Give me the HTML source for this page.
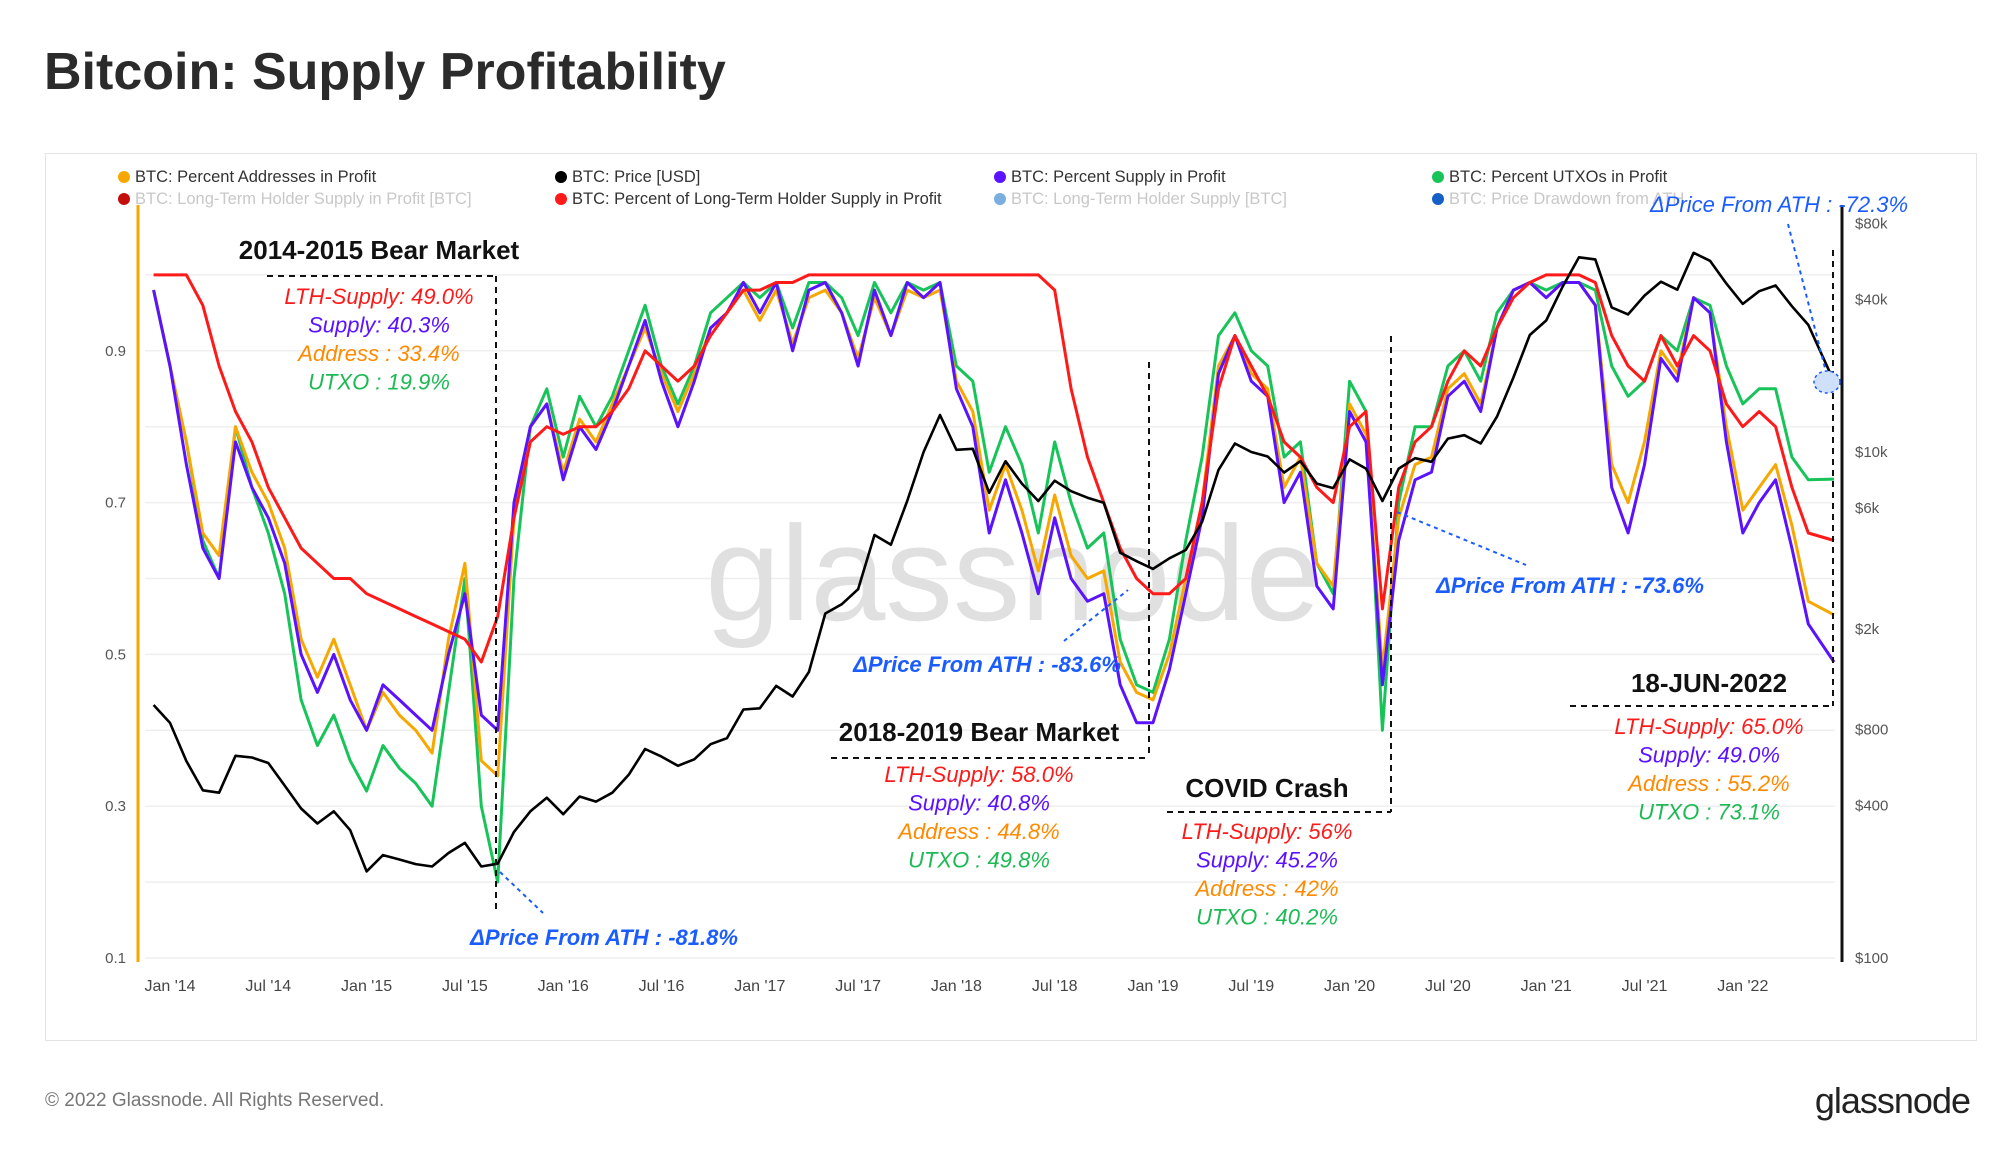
<!DOCTYPE html>
<html><head><meta charset="utf-8">
<style>
html,body{margin:0;padding:0;background:#fff;}
body{width:2000px;height:1153px;position:relative;overflow:hidden;font-family:"Liberation Sans",sans-serif;}
.title{position:absolute;left:44px;top:42px;font-size:52px;font-weight:bold;color:#2b2b2b;}
.panel{position:absolute;left:45px;top:153px;width:1932px;height:888px;border:1px solid #e4e4e4;box-sizing:border-box;}
.foot{position:absolute;left:45px;top:1090px;font-size:19px;color:#777;}
.logo{position:absolute;right:30px;top:1080px;font-size:36px;color:#222;letter-spacing:-1px;}
svg{position:absolute;left:0;top:0;}
</style></head><body>
<div class="title">Bitcoin: Supply Profitability</div>
<div class="panel"></div>
<div class="foot">© 2022 Glassnode. All Rights Reserved.</div>
<div class="logo">glassnode</div>
<svg id="chart" width="2000" height="1153"></svg>
<script>
const dates=["2013-12-01"];
for(let y=2014;y<=2022;y++){for(let m=1;m<=12;m++){if(y===2022&&m>5)break;dates.push(y+"-"+String(m).padStart(2,"0")+"-01");}}
dates.push("2022-06-18");
const supply=[0.98,
0.88,0.75,0.64,0.60,0.78,0.72,0.68,0.62,0.50,0.45,0.50,0.44,
0.40,0.46,0.44,0.42,0.40,0.50,0.58,0.42,0.40,0.70,0.80,0.83,
0.73,0.80,0.77,0.82,0.88,0.94,0.86,0.80,0.86,0.93,0.95,0.99,
0.95,0.99,0.90,0.98,0.99,0.95,0.88,0.98,0.92,0.99,0.97,0.99,
0.85,0.80,0.66,0.73,0.66,0.58,0.68,0.60,0.57,0.58,0.46,0.41,
0.41,0.48,0.58,0.68,0.87,0.92,0.86,0.84,0.70,0.74,0.59,0.56,
0.82,0.78,0.46,0.65,0.73,0.74,0.84,0.86,0.82,0.93,0.98,0.99,
0.97,0.99,0.99,0.96,0.72,0.66,0.75,0.89,0.86,0.97,0.95,0.78,
0.66,0.70,0.73,0.64,0.54,0.49];
const addresses=[0.98,
0.88,0.78,0.66,0.63,0.80,0.74,0.70,0.64,0.52,0.47,0.52,0.46,
0.40,0.45,0.42,0.40,0.37,0.52,0.62,0.36,0.34,0.68,0.80,0.83,
0.74,0.81,0.78,0.83,0.88,0.93,0.87,0.82,0.87,0.93,0.95,0.98,
0.94,0.98,0.91,0.97,0.98,0.95,0.89,0.97,0.92,0.98,0.97,0.98,
0.86,0.82,0.69,0.75,0.69,0.61,0.71,0.63,0.60,0.61,0.49,0.45,
0.44,0.50,0.60,0.70,0.88,0.92,0.87,0.85,0.72,0.76,0.62,0.59,
0.83,0.79,0.48,0.68,0.75,0.76,0.85,0.87,0.83,0.93,0.98,0.99,
0.97,0.99,0.99,0.96,0.75,0.70,0.78,0.90,0.87,0.97,0.95,0.80,
0.69,0.72,0.75,0.67,0.57,0.552];
const utxos=[0.98,
0.88,0.78,0.65,0.60,0.80,0.72,0.66,0.58,0.44,0.38,0.42,0.36,
0.32,0.38,0.35,0.33,0.30,0.45,0.60,0.30,0.20,0.60,0.80,0.85,
0.76,0.84,0.80,0.84,0.90,0.96,0.88,0.83,0.88,0.95,0.97,0.99,
0.97,0.99,0.93,0.99,0.99,0.97,0.92,0.99,0.95,0.99,0.98,0.99,
0.88,0.86,0.74,0.80,0.75,0.66,0.78,0.70,0.64,0.66,0.52,0.46,
0.45,0.52,0.65,0.76,0.92,0.95,0.90,0.88,0.76,0.78,0.62,0.58,
0.86,0.82,0.40,0.70,0.80,0.80,0.88,0.90,0.86,0.95,0.98,0.99,
0.98,0.99,0.99,0.98,0.88,0.84,0.86,0.92,0.90,0.97,0.96,0.88,
0.83,0.85,0.85,0.76,0.73,0.731];
const lth=[1.0,
1.0,1.0,0.96,0.88,0.82,0.78,0.72,0.68,0.64,0.62,0.60,0.60,
0.58,0.57,0.56,0.55,0.54,0.53,0.52,0.49,0.55,0.68,0.78,0.80,
0.79,0.80,0.80,0.82,0.85,0.90,0.88,0.86,0.88,0.92,0.95,0.98,
0.98,0.99,0.99,1.0,1.0,1.0,1.0,1.0,1.0,1.0,1.0,1.0,
1.0,1.0,1.0,1.0,1.0,1.0,0.98,0.85,0.76,0.70,0.64,0.60,
0.58,0.58,0.60,0.70,0.85,0.92,0.88,0.84,0.78,0.76,0.72,0.70,
0.80,0.82,0.56,0.72,0.78,0.80,0.86,0.90,0.88,0.93,0.97,0.99,
1.0,1.0,1.0,0.99,0.92,0.88,0.86,0.92,0.88,0.92,0.90,0.83,
0.80,0.82,0.80,0.72,0.66,0.65];
const price=[1000,
850,600,460,450,630,620,590,480,390,340,380,320,
220,255,245,235,230,260,285,230,236,315,380,430,
370,435,415,450,530,670,625,575,610,700,740,960,
970,1190,1080,1350,2300,2500,2870,4700,4300,6400,10000,14000,
10200,10300,6900,9200,7500,6400,7700,7000,6600,6300,4000,3700,
3450,3800,4100,5300,8500,10800,10000,9600,8300,9200,7500,7200,
9350,8600,6400,8600,9450,9150,11300,11650,10800,13800,19700,29000,
33100,45000,58800,57700,37300,35000,41500,47100,43800,61300,57000,46300,
38500,43200,45500,37700,31800,19000];
const leftTicks=["0.1","0.3","0.5","0.7","0.9"];
const rightTicks=[100,400,800,2000,6000,10000,40000,80000];
const rightTickLabels=["$100","$400","$800","$2k","$6k","$10k","$40k","$80k"];
const xTickLabels=["Jan '14","Jul '14","Jan '15","Jul '15","Jan '16","Jul '16","Jan '17","Jul '17","Jan '18","Jul '18","Jan '19","Jul '19","Jan '20","Jul '20","Jan '21","Jul '21","Jan '22"];

const NS="http://www.w3.org/2000/svg";
const svg=document.getElementById("chart");
function el(tag,attrs,parent){const e=document.createElementNS(NS,tag);for(const k in attrs)e.setAttribute(k,attrs[k]);(parent||svg).appendChild(e);return e;}
function xOf(d){const p=d.split("-").map(Number);return 170+(p[0]-2014)*196.6+(p[1]-1+(p[2]-1)/30)*16.383;}
function yL(v){return 958-(v-0.1)/0.2*151.8;}
function yR(p){return 958-Math.log10(p/100)*253;}

for(let v=0.1;v<=1.05;v+=0.1){const g=el("line",{x1:145,x2:1835,y1:yL(v),y2:yL(v),stroke:"#efefef","stroke-width":1.5});

}
const wm=el("text",{x:1013,y:620,"text-anchor":"middle","font-size":135,fill:"#e0e0e0","font-family":"Liberation Sans, sans-serif"});
wm.textContent="glassnode";


const la=el("line",{x1:138,x2:138,y1:205,y2:962,stroke:"#f5a800","stroke-width":3});


const ra=el("line",{x1:1842,x2:1842,y1:205,y2:962,stroke:"#111","stroke-width":3});


leftTicks.forEach(t=>{const e=el("text",{x:126,y:yL(parseFloat(t))+5,"text-anchor":"end","font-size":15,fill:"#555"});e.textContent=t;

});
rightTicks.forEach((t,i)=>{const e=el("text",{x:1855,y:yR(t)+5,"font-size":15,fill:"#555"});e.textContent=rightTickLabels[i];

});
xTickLabels.forEach((t,i)=>{const d=(2014+Math.floor(i/2))+"-"+(i%2?"07":"01")+"-01";const e=el("text",{x:xOf(d),y:991,"text-anchor":"middle","font-size":16,fill:"#444"});e.textContent=t;

});

function series(vals,f,color,name,w){const pts=vals.map((v,i)=>xOf(dates[i]).toFixed(1)+","+f(v).toFixed(1)).join(" ");
const p=el("polyline",{points:pts,fill:"none",stroke:color,"stroke-width":w||3,"stroke-linejoin":"round"});

}
series(utxos,yL,"#18c45a","utxo-profit-line");
series(addresses,yL,"#f7a800","addresses-profit-line");
series(supply,yL,"#5a12ff","supply-profit-line");
series(lth,yL,"#ff1a1a","lth-supply-profit-line");
series(price,yR,"#000","price-line",2.6);

const legend=[[119,182,"#f7a800","BTC: Percent Addresses in Profit","#333"],[556,182,"#000","BTC: Price [USD]","#333"],[995,182,"#5a12ff","BTC: Percent Supply in Profit","#333"],[1433,182,"#18c45a","BTC: Percent UTXOs in Profit","#333"],
[119,204,"#c40d0d","BTC: Long-Term Holder Supply in Profit [BTC]","#c8c8c8"],[556,204,"#ff1a1a","BTC: Percent of Long-Term Holder Supply in Profit","#333"],[995,204,"#7aaee0","BTC: Long-Term Holder Supply [BTC]","#c8c8c8"],[1433,204,"#1560c8","BTC: Price Drawdown from ATH","#c8c8c8"]];
legend.forEach(l=>{const g=el("g",{});


el("circle",{cx:l[0]+5,cy:l[1]-5,r:6,fill:l[2]},g);const t=el("text",{x:l[0]+16,y:l[1],"font-size":16.5,fill:l[4]},g);t.textContent=l[3];});

function txt(x,y,s,color,size,weight,style,name,anchor){const t=el("text",{x:x,y:y,"text-anchor":anchor||"middle","font-size":size,fill:color,"font-weight":weight||"normal","font-style":style||"normal"});t.textContent=s;

}
function dash(x1,y1,x2,y2,color,da,name){const l=el("line",{x1:x1,y1:y1,x2:x2,y2:y2,stroke:color,"stroke-width":2,"stroke-dasharray":da});

}
const R="#ff1a1a",P="#5a12ff",O="#ff8a00",G="#1db954",B="#1a5cff";
function block(cx,y0,vals,name){const c=[R,P,O,G];vals.forEach((s,i)=>txt(cx,y0+i*28.5,s,c[i],22,"normal","italic",name+"-stat"));}
txt(379,259,"2014-2015 Bear Market","#111",26,"bold","normal","bear-2014-label");
dash(267,276,496,276,"#111","6,5","bear-2014-hline");dash(496,276,496,910,"#111","6,5","bear-2014-vline");
block(379,304,["LTH-Supply: 49.0%","Supply: 40.3%","Address : 33.4%","UTXO : 19.9%"],"bear-2014");
txt(604,945,"ΔPrice From ATH : -81.8%",B,22,"bold","italic","ath-2015-label");
dash(500,872,543,913,B,"4,4","ath-2015-pointer");

txt(979,741,"2018-2019 Bear Market","#111",26,"bold","normal","bear-2018-label");
dash(831,758,1149,758,"#111","6,5","bear-2018-hline");dash(1149,362,1149,758,"#111","6,5","bear-2018-vline");
block(979,782,["LTH-Supply: 58.0%","Supply: 40.8%","Address : 44.8%","UTXO : 49.8%"],"bear-2018");
txt(987,672,"ΔPrice From ATH : -83.6%",B,22,"bold","italic","ath-2018-label");
dash(1064,641,1128,590,B,"4,4","ath-2018-pointer");

txt(1267,797,"COVID Crash","#111",26,"bold","normal","covid-label");
dash(1167,812,1391,812,"#111","6,5","covid-hline");dash(1391,336,1391,812,"#111","6,5","covid-vline");
block(1267,839,["LTH-Supply: 56%","Supply: 45.2%","Address : 42%","UTXO : 40.2%"],"covid");
txt(1570,593,"ΔPrice From ATH : -73.6%",B,22,"bold","italic","ath-2020-label");
dash(1397,512,1526,565,B,"4,4","ath-2020-pointer");

txt(1709,692,"18-JUN-2022","#111",26,"bold","normal","jun-2022-label");
dash(1570,706,1833,706,"#111","6,5","jun-2022-hline");dash(1833,250,1833,706,"#111","6,5","jun-2022-vline");
block(1709,734,["LTH-Supply: 65.0%","Supply: 49.0%","Address : 55.2%","UTXO : 73.1%"],"jun-2022");
txt(1779,212,"ΔPrice From ATH : -72.3%",B,22,"normal","italic","ath-2022-label");
dash(1788,224,1826,372,B,"4,4","ath-2022-pointer");
const c=el("ellipse",{cx:1827,cy:382,rx:13,ry:11,fill:"#cfe0fb",stroke:B,"stroke-width":1.5,"stroke-dasharray":"3,3"});


</script>
</body></html>
